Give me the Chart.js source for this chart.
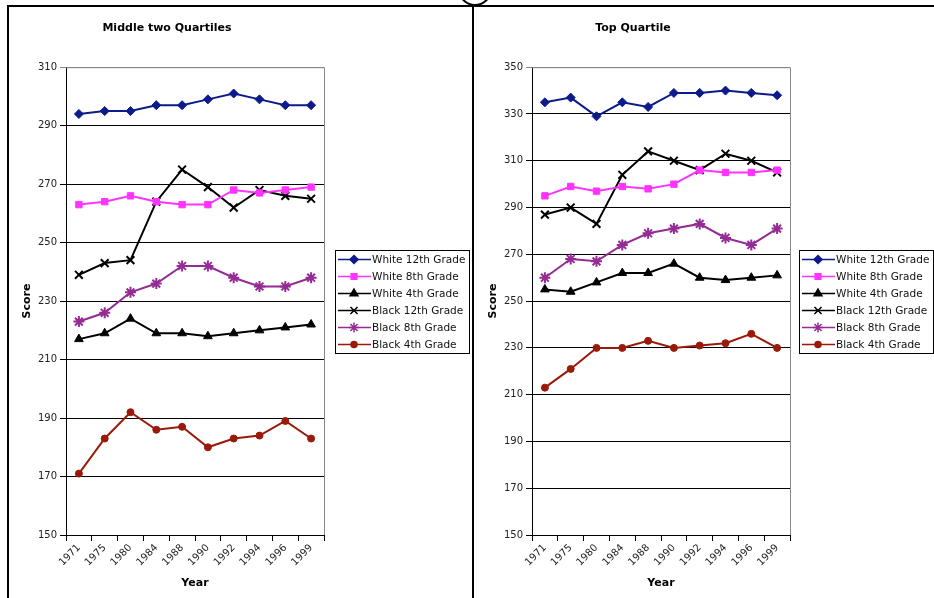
<!DOCTYPE html>
<html>
<head>
<meta charset="utf-8">
<script src="https://cdn.jsdelivr.net/npm/chart.js@4/dist/chart.umd.min.js"></script>
<style>
    body { margin: 0; background: #fff; width: 934px; height: 598px; overflow: hidden; position: relative; font-family: "DejaVu Sans", sans-serif; }
    .marco-izq { position: absolute; left: 7px; top: 5px; width: 2px; height: 600px; background: #000; }
    .marco-sup { position: absolute; left: 7px; top: 5px; width: 940px; height: 2px; background: #000; }
    .marco-mid { position: absolute; left: 472px; top: 5px; width: 2px; height: 600px; background: #000; }
    .circulo { position: absolute; left: 458px; top: -28px; width: 30px; height: 30px; border: 2px solid #000; border-radius: 50%; background: #fff; }
    canvas { position: absolute; top: 8px; }
    #chartMedio { left: 10px; }
    #chartTop { left: 476px; }
</style>
</head>
<body>
<div class="circulo"></div>
<div class="marco-sup"></div>
<div class="marco-izq"></div>
<div class="marco-mid"></div>
<canvas id="chartMedio" width="460" height="588"></canvas>
<canvas id="chartTop" width="458" height="588"></canvas>

<script>
// Datos
const years = ['1971', '1975', '1980', '1984', '1988', '1990', '1992', '1994', '1996', '1999'];
const seriesNames = ['White 12th Grade', 'White 8th Grade', 'White 4th Grade', 'Black 12th Grade', 'Black 8th Grade', 'Black 4th Grade'];

// Middle two Quartiles
const midWhite12 = [294, 295, 295, 297, 297, 299, 301, 299, 297, 297];
const midWhite8  = [263, 264, 266, 264, 263, 263, 268, 267, 268, 269];
const midWhite4  = [217, 219, 224, 219, 219, 218, 219, 220, 221, 222];
const midBlack12 = [239, 243, 244, 264, 275, 269, 262, 268, 266, 265];
const midBlack8  = [223, 226, 233, 236, 242, 242, 238, 235, 235, 238];
const midBlack4  = [171, 183, 192, 186, 187, 180, 183, 184, 189, 183];

// Top Quartile
const topWhite12 = [335, 337, 329, 335, 333, 339, 339, 340, 339, 338];
const topWhite8  = [295, 299, 297, 299, 298, 300, 306, 305, 305, 306];
const topWhite4  = [255, 254, 258, 262, 262, 266, 260, 259, 260, 261];
const topBlack12 = [287, 290, 283, 304, 314, 310, 306, 313, 310, 305];
const topBlack8  = [260, 268, 267, 274, 279, 281, 283, 277, 274, 281];
const topBlack4  = [213, 221, 230, 230, 233, 230, 231, 232, 236, 230];

const midTicks = [150, 310];
const topTicks = [150, 350];

// Estilos de cada serie
const colores = ['#0d1a8c', '#ff33ff', '#000000', '#000000', '#952b95', '#991a0a'];
const marcas = ['rectRot', 'rect', 'triangle', 'crossRot', 'star', 'circle'];
const radios = [4.5, 4.5, 5, 5.5, 5.5, 3.5];

function armarDatasets(series) {
    return series.map((valores, i) => ({
        label: seriesNames[i],
        data: valores,
        borderColor: colores[i],
        backgroundColor: colores[i],
        borderWidth: 2,
        pointStyle: marcas[i],
        pointRadius: radios[i],
        pointHoverRadius: radios[i],
        pointBorderWidth: (marcas[i] === 'crossRot' || marcas[i] === 'star') ? 2 : 1,
        pointBackgroundColor: colores[i],
        pointBorderColor: colores[i],
        tension: 0
    }));
}

// Leyenda con linea + marca, y marco gris del area
const leyendaPlugin = {
    id: 'leyendaExcel',
    afterDraw(chart, args, opts) {
        const ctx = chart.ctx;
        const area = chart.chartArea;

        ctx.save();
        ctx.strokeStyle = '#888';
        ctx.lineWidth = 1;
        ctx.beginPath();
        ctx.moveTo(area.left, area.top + 0.5);
        ctx.lineTo(area.right + 0.5, area.top + 0.5);
        ctx.lineTo(area.right + 0.5, area.bottom);
        ctx.stroke();

        const x0 = opts.x, y0 = opts.y;
        ctx.fillStyle = '#fff';
        ctx.fillRect(x0, y0, opts.w, opts.h);
        ctx.strokeStyle = '#000';
        ctx.strokeRect(x0 + 0.5, y0 + 0.5, opts.w, opts.h);

        ctx.font = '10.5px "DejaVu Sans", sans-serif';
        ctx.textBaseline = 'middle';
        ctx.textAlign = 'left';
        chart.data.datasets.forEach((ds, i) => {
            const y = y0 + 9.5 + i * 17;
            ctx.strokeStyle = ds.borderColor;
            ctx.lineWidth = 1.5;
            ctx.beginPath();
            ctx.moveTo(x0 + 3, y);
            ctx.lineTo(x0 + 36, y);
            ctx.stroke();
            ctx.fillStyle = ds.borderColor;
            ctx.strokeStyle = ds.borderColor;
            Chart.helpers.drawPoint(ctx, {
                pointStyle: ds.pointStyle,
                radius: ds.pointRadius - 0.5,
                borderWidth: ds.pointBorderWidth,
                rotation: 0
            }, x0 + 19, y);
            ctx.fillStyle = '#111';
            ctx.fillText(ds.label, x0 + 37, y + 0.5);
        });
        ctx.restore();
    }
};

function crearGrafico(id, titulo, series, ticks, padRight, legendX) {
    const ctx = document.getElementById(id).getContext('2d');
    return new Chart(ctx, {
        type: 'line',
        data: { labels: years, datasets: armarDatasets(series) },
        options: {
            responsive: false,
            animation: false,
            layout: { padding: { top: 0, left: 0, right: padRight, bottom: 0 } },
            plugins: {
                legend: { display: false },
                tooltip: { enabled: false },
                title: {
                    display: true,
                    text: titulo,
                    color: '#000',
                    font: { family: 'DejaVu Sans', size: 11, weight: 'bold' },
                    padding: { top: 14, bottom: 32 }
                },
                leyendaExcel: { x: legendX, y: 242, w: 134, h: 103 }
            },
            scales: {
                x: {
                    offset: true,
                    afterFit: (scale) => { scale.height = 61; },
                    grid: { offset: true, drawOnChartArea: false, drawTicks: true, tickLength: 6, color: '#000' },
                    border: { color: '#000', width: 1 },
                    ticks: {
                        minRotation: 45, maxRotation: 45, padding: 1,
                        color: '#222',
                        font: { family: 'DejaVu Sans', size: 10 }
                    },
                    title: {
                        display: true, text: 'Year', color: '#000',
                        font: { family: 'DejaVu Sans', size: 11, weight: 'bold' },
                        padding: { top: 0, bottom: 6 }
                    }
                },
                y: {
                    min: ticks[0],
                    max: ticks[1],
                    afterFit: (scale) => { scale.width = 56; },
                    grid: {
                        color: (c) => c.tick && c.tick.value === ticks[1] ? '#888' : '#000',
                        tickLength: 6,
                        lineWidth: 1
                    },
                    border: { color: '#000', width: 1 },
                    ticks: {
                        stepSize: 20, padding: 3, color: '#222',
                        font: { family: 'DejaVu Sans', size: 10 }
                    },
                    title: {
                        display: true, text: 'Score', color: '#000',
                        font: { family: 'DejaVu Sans', size: 11, weight: 'bold' },
                        padding: { top: 11, bottom: 0 }
                    }
                }
            }
        },
        plugins: [leyendaPlugin]
    });
}

crearGrafico('chartMedio', 'Middle two Quartiles',
    [midWhite12, midWhite8, midWhite4, midBlack12, midBlack8, midBlack4], midTicks, 146, 325);
crearGrafico('chartTop', 'Top Quartile',
    [topWhite12, topWhite8, topWhite4, topBlack12, topBlack8, topBlack4], topTicks, 144, 323);
</script>
</body>
</html>
